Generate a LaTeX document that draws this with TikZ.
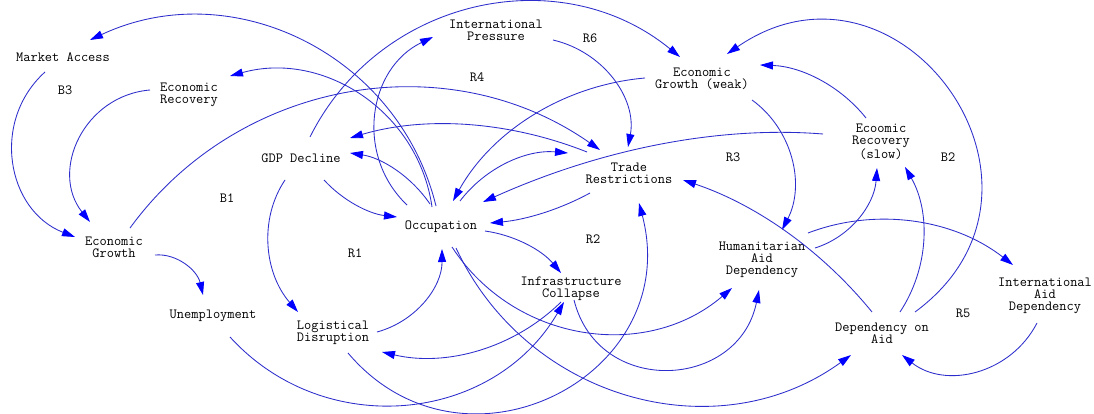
\documentclass[tikz,border=0pt]{standalone}
\usepackage{fontspec}
\usetikzlibrary{arrows.meta,calc}
\definecolor{linkblue}{RGB}{45,45,205}
\definecolor{tipblue}{RGB}{0,0,255}
\tikzset{
  var/.style={font=\ttfamily\fontsize{14}{12.3}\selectfont, align=center, inner sep=0pt, text=black},
  looplbl/.style={var},
  link/.style={draw=linkblue, line width=0.85pt,
    -{Triangle[length=13pt,width=8pt,color=tipblue,fill=tipblue]}},
}
% \lnk{source}{offset}{arc midpoint}{target}{offset}
% draws a circular arc (cubic approximation) from source to target through the midpoint
\newcommand\lnk[5]{%
  \path ($(#1)+(#2)$) coordinate (s) ($(#4)+(#5)$) coordinate (e) (#3) coordinate (m);
  \path ($(s)!.5!(e)$) coordinate (h);
  \path let \p1=($(e)-(s)$), \p2=($(m)-(h)$) in
    \pgfextra{\pgfmathsetmacro\arcK{(1-(2*veclen(\x2,\y2)/veclen(\x1,\y1))^2)/3}%
              \global\let\arcKg\arcK};
  \path ($(m)-(h)$) coordinate (w);
  \draw[link] (s) .. controls ($(s)!\arcKg!(e)+1.3333*(w)$)
                        and ($(e)!\arcKg!(s)+1.3333*(w)$) .. (e);
}
\begin{document}
\begin{tikzpicture}[x=1pt,y=-1pt]
\path[use as bounding box, fill=white] (0,0) rectangle (1094,414);

% variables
\node[var] (mkt)   at (63,57)    {Market Access};
\node[var] (erec)  at (189,95)   {Economic\\Recovery};
\node[var] (ipr)   at (496,30)   {International\\Pressure};
\node[var] (egw)   at (702,79)   {Economic\\Growth (weak)};
\node[var] (ers)   at (881,142)  {Ecoomic\\Recovery\\(slow)};
\node[var] (gdp)   at (301,158)  {GDP Decline};
\node[var] (tr)    at (629,173)  {Trade\\Restrictions};
\node[var] (occ)   at (441,227)  {Occupation};
\node[var] (eg)    at (114,247)  {Economic\\Growth};
\node[var] (had)   at (762,260)  {Humanitarian\\Aid\\Dependency};
\node[var] (ic)    at (571,289)  {Infrastructure\\Collapse};
\node[var] (unemp) at (213,316)  {Unemployment};
\node[var] (ld)    at (333,333)  {Logistical\\Disruption};
\node[var] (doa)   at (882,333)  {Dependency on\\Aid};
\node[var] (iad)   at (1045,296) {International\\Aid\\Dependency};

% loop identifiers
\node[looplbl] (lB3) at (65,90)   {B3};
\node[looplbl] (lB1) at (227,198) {B1};
\node[looplbl] (lR4) at (477,77)  {R4};
\node[looplbl] (lR6) at (590,38)  {R6};
\node[looplbl] (lR3) at (733,157) {R3};
\node[looplbl] (lR1) at (355,253) {R1};
\node[looplbl] (lR2) at (593,239) {R2};
\node[looplbl] (lB2) at (948,157) {B2};
\node[looplbl] (lR5) at (963,313) {R5};

% causal links
\lnk{occ}{-5,-21}{302,41}{mkt}{27,-17}
\lnk{occ}{-9,-20}{361,96}{erec}{41,-19}
\lnk{occ}{-34,-22}{376,114}{ipr}{-63,7}
\lnk{ipr}{57,10}{613,80}{tr}{-1,-26}
\lnk{egw}{-57,-1}{533,116}{occ}{12,-26}
\lnk{egw}{50,21}{791,159}{had}{20,-30}
\lnk{ers}{-15,-24}{819,80}{egw}{58,-14}
\lnk{doa}{33,-21}{949,92}{egw}{25,-25}
\lnk{doa}{18,-21}{923,240}{ers}{24,25}
\lnk{had}{53,-12}{858,218}{ers}{-4,26}
\lnk{had}{46,-27}{914,222}{iad}{-32,-31}
\lnk{iad}{-8,27}{976,371}{doa}{20,22}
\lnk{doa}{-10,-21}{786,232}{tr}{54,7}
\lnk{tr}{-39,20}{542,213}{occ}{49,-4}
\lnk{ers}{-58,-8}{658,145}{occ}{42,-25}
\lnk{occ}{44,4}{527,245}{ic}{-10,-16}
\lnk{occ}{11,20}{583,331}{had}{-30,28}
\lnk{occ}{15,21}{630,395}{doa}{-31,22}
\lnk{ic}{3,11}{668,369}{had}{-3,30}
\lnk{ic}{-10,13}{478,350}{ld}{49,19}
\lnk{unemp}{17,21}{406,404}{ic}{-7,13}
\lnk{ld}{15,20}{554,394}{tr}{10,30}
\lnk{ld}{44,-1}{424,301}{occ}{1,22}
\lnk{gdp}{-16,22}{269,246}{ld}{-35,-21}
\lnk{gdp}{23,22}{357,205}{occ}{-44,-10}
\lnk{eg}{41,8}{185,265}{unemp}{-10,-21}
\lnk{eg}{16,-19}{349,93}{tr}{-29,-23}
\lnk{mkt}{-18,15}{14,163}{eg}{-39,-10}
\lnk{erec}{-39,-5}{80,139}{eg}{-24,-25}
\lnk{occ}{-11,-23}{395,170}{gdp}{49,-5}
\lnk{tr}{-42,-21}{467,125}{gdp}{49,-20}
\lnk{gdp}{9,-21}{476,8}{egw}{-22,-22}
\lnk{occ}{19,-26}{508,163}{tr}{-61,-20}
\end{tikzpicture}
\end{document}
